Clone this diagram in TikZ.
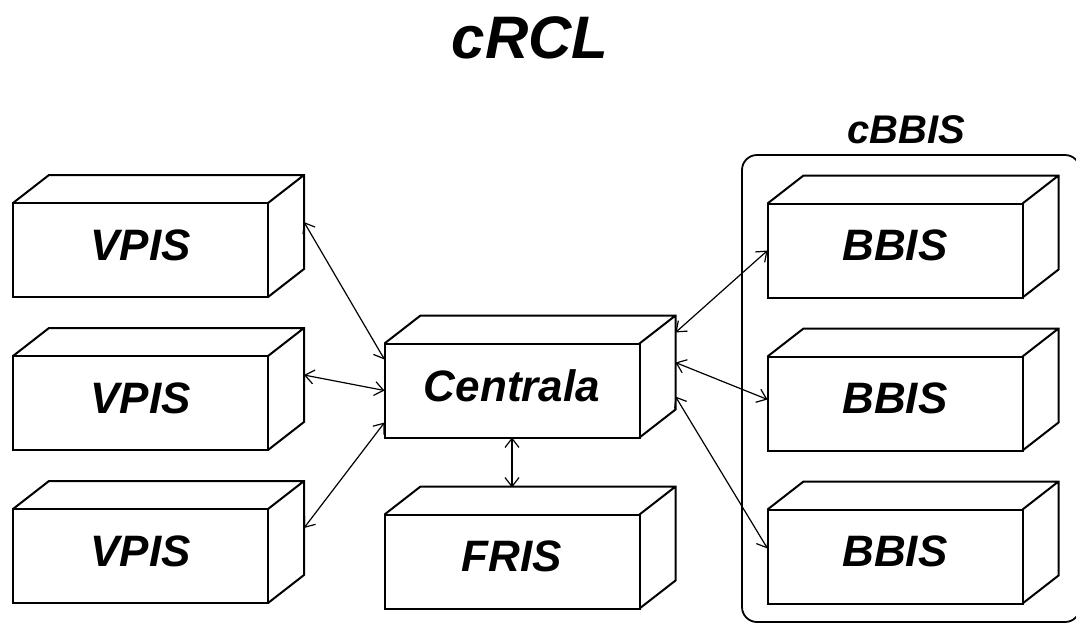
\documentclass[tikz,border=0pt]{standalone}
\usepackage{fontspec}
\setmainfont{Liberation Sans}
\usetikzlibrary{positioning,arrows.meta}

\tikzset{
  box/.style={draw, line width=1pt, outer sep=0pt, minimum width=127.5pt, minimum height=47pt,
    text depth=5pt, font=\fontsize{22}{24}\selectfont\bfseries\itshape},
  link/.style={{Straight Barb[length=4.5pt,width=7pt]}-{Straight Barb[length=4.5pt,width=7pt]}, line width=0.6pt},
}

\begin{document}
\begin{tikzpicture}[x=0.5pt, y=-0.5pt]
  \useasboundingbox (0,0) rectangle (1076,623);
  % frame round the BBIS group
  \node[draw, line width=0.9pt, rounded corners=7.5pt, minimum width=169pt, minimum height=233.5pt] (grp) at (911,388.5) {};
  \node[font=\fontsize{20}{22}\selectfont\bfseries\itshape] (grplabel) at (906,130) {cBBIS};
  \node[font=\fontsize{30}{32}\selectfont\bfseries\itshape] (title) at (530,38) {cRCL};

  \node[box] (v1) at (140.5,250) {VPIS};
  \node[box, below=29.5pt of v1] (v2) {VPIS};
  \node[box, below=29.5pt of v2] (v3) {VPIS};
  \node[box] (cen) at (512,390.5) {Centrala};
  \node[box, below=38.5pt of cen] (fris) {FRIS};
  \node[box] (b1) at (895,250.5) {BBIS};
  \node[box, below=29.5pt of b1] (b2) {BBIS};
  \node[box, below=29.5pt of b2] (b3) {BBIS};

  % top and side faces
  \foreach \n in {v1,v2,v3,cen,fris,b1,b2,b3}
    \draw[line width=1pt] (\n.north west) -- ++(36,-28) -| ([shift={(36,-28)}]\n.south east)
      -- (\n.south east) (\n.north east) -- ++(36,-28);

  \draw[link] ([shift={(36,-28)}]v1.east) -- ([shift={(0,-31)}]cen.west);
  \draw[link] ([shift={(36,-28)}]v2.east) -- (cen.west);
  \draw[link] ([shift={(36,-28)}]v3.east) -- ([shift={(0,32)}]cen.west);
  \draw[link] (cen.south) -- ([shift={(0,-27)}]fris.north);
  \draw[link] ([shift={(36,-58)}]cen.east) -- (b1.west);
  \draw[link] ([shift={(36,-28)}]cen.east) -- ([shift={(0,-4)}]b2.west);
  \draw[link] ([shift={(36,6)}]cen.east) -- ([shift={(0,-8)}]b3.west);
\end{tikzpicture}
\end{document}
